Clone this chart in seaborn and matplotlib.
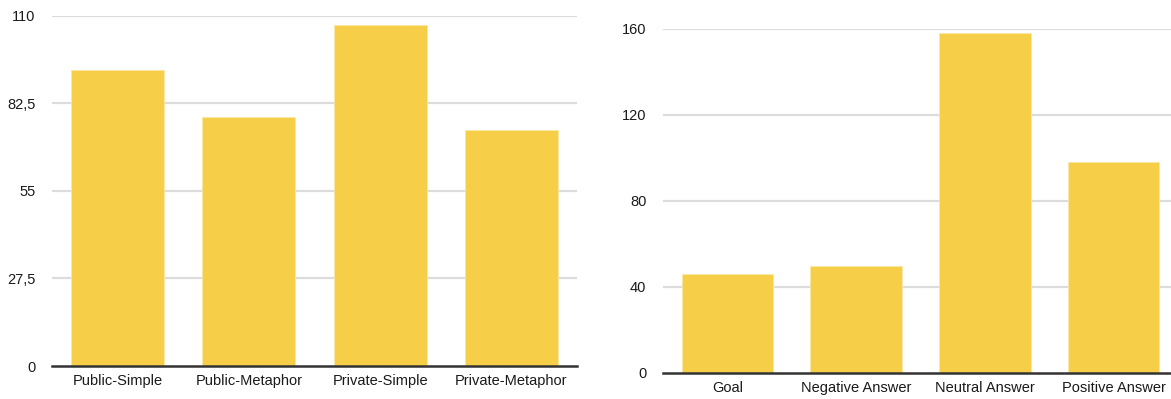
import matplotlib
matplotlib.use("Agg")
import matplotlib.pyplot as plt
import seaborn as sns
import pandas as pd

# Left panel: counts per condition
conditions = ["Public-Simple", "Public-Metaphor", "Private-Simple", "Private-Metaphor"]
condition_counts = [93, 78, 107, 74]
left_ticks = [0, 27.5, 55, 82.5, 110]
left_ticklabels = ["0", "27,5", "55", "82,5", "110"]

# Right panel: counts per answer type
answer_types = ["Goal", "Negative Answer", "Neutral Answer", "Positive Answer"]
answer_counts = [46, 50, 158, 98]
right_ticks = [0, 40, 80, 120, 160]
right_ticklabels = ["0", "40", "80", "120", "160"]

BAR = "#F6CE48"
GRID = "#DCDCDC"
BASE = "#333333"
TEXT = "#1A1A1A"

sns.set_theme(style="white")
plt.rcParams["font.family"] = ["Liberation Sans", "DejaVu Sans"]

fig = plt.figure(figsize=(11.71, 3.99), dpi=100)
W, H = 1171, 399

def px_axes(x0, x1, ytop, ybot):
    return fig.add_axes([x0 / W, (H - ybot) / H, (x1 - x0) / W, (ybot - ytop) / H])

ax1 = px_axes(52, 577, 15.5, 366)
ax2 = px_axes(663, 1178, 29, 373)

panels = [
    (ax1, conditions, condition_counts, left_ticks, left_ticklabels),
    (ax2, answer_types, answer_counts, right_ticks, right_ticklabels),
]

for ax, cats, vals, ticks, labels in panels:
    df = pd.DataFrame({"category": cats, "count": vals})
    sns.barplot(data=df, x="category", y="count", color=BAR, saturation=1,
                width=0.71, ax=ax, zorder=3, edgecolor="#FBE7A6", linewidth=0.6)
    ax.set_xlim(-0.5, len(cats) - 0.5)
    ax.set_ylim(0, ticks[-1])
    ax.set_yticks(ticks)
    ax.set_yticklabels(labels)
    ax.set_xlabel("")
    ax.set_ylabel("")
    for t in ticks[1:]:
        ax.axhline(t, color=GRID, linewidth=1.6, zorder=1)
    for side in ["top", "right", "left"]:
        ax.spines[side].set_visible(False)
    ax.spines["bottom"].set_color(BASE)
    ax.spines["bottom"].set_linewidth(1.8)
    ax.spines["bottom"].set_zorder(4)
    ax.tick_params(axis="y", length=0, pad=12, labelsize=10.5, labelcolor=TEXT)
    ax.tick_params(axis="x", length=0, pad=6, labelsize=10.5, labelcolor=TEXT)
    ax.grid(False)

fig.savefig("out.png", dpi=100)
